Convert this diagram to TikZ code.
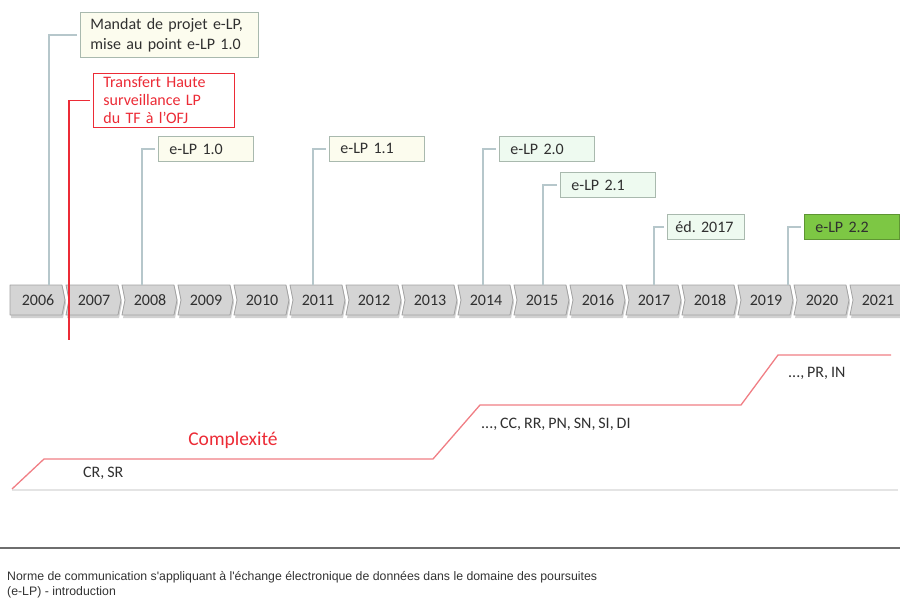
\documentclass[tikz,border=0pt]{standalone}
\usepackage{fontspec}
\setmainfont{Carlito}[WordSpace=0.8]
\newfontfamily\capfont{Liberation Sans}
\usetikzlibrary{calc}
\frenchspacing

\definecolor{conn}{HTML}{B6C7CB}
\definecolor{callborder}{HTML}{A9B9AE}
\definecolor{cream}{HTML}{FCFCEE}
\definecolor{mint}{HTML}{EEFAF0}
\definecolor{leaf}{HTML}{7DC744}
\definecolor{chevfill}{HTML}{D4D4D4}
\definecolor{chevline}{HTML}{A2A2A2}
\definecolor{txt}{HTML}{303030}
\definecolor{alert}{HTML}{EC2B36}
\definecolor{curve}{HTML}{F07E84}
\definecolor{floorgray}{HTML}{E4E4E4}
\definecolor{rulegray}{HTML}{6E6E6E}

\tikzset{
  callout/.style={draw=callborder, line width=0.8pt, text=txt, anchor=north west,
    align=left, inner xsep=10pt, inner ysep=0pt, font=\fontsize{16}{20}\selectfont},
  tag/.style={callout, minimum width=95pt, minimum height=25pt, text width=73pt, inner xsep=11pt},
  link/.style={draw=conn, line width=1.3pt, shorten <=3pt},
  yearlabel/.style={text=txt, font=\fontsize{16}{18}\selectfont, inner sep=0pt},
  chevron/.style={fill=chevfill, draw=chevline, line width=0.8pt, line join=round},
  plain/.style={text=txt, font=\fontsize{16}{18}\selectfont, inner sep=0pt, anchor=west}
}

\begin{document}
\begin{tikzpicture}[x=1pt,y=-1pt]
\useasboundingbox (0,0) rectangle (900,599);
\begin{scope}
\clip (0,0) rectangle (900,599);

% year chevrons along the time axis
\foreach \yr [count=\i from 0] in {2006,...,2021}{
  \pgfmathsetmacro{\L}{10+56*\i}
  \ifnum\i=0
    \fill[black, opacity=0.18] (\L+1,288) -- (\L+53,288) -- (\L+56,303) -- (\L+53,318) -- (\L+1,318) -- cycle;
    \draw[chevron] (\L,285) -- (\L+52,285) -- (\L+55,300) -- (\L+52,315) -- (\L,315) -- cycle;
  \else
    \fill[black, opacity=0.18] (\L+1,288) -- (\L+53,288) -- (\L+56,303) -- (\L+53,318) -- (\L+1,318) -- (\L+4,303) -- cycle;
    \draw[chevron] (\L,285) -- (\L+52,285) -- (\L+55,300) -- (\L+52,315) -- (\L,315) -- (\L+3,300) -- cycle;
  \fi
  \node[yearlabel] (y\yr) at (\L+28,300) {\yr};
}

% milestone callouts
\node[callout, fill=cream, minimum width=178pt, minimum height=45pt, text width=158pt]
  (mandat) at (80,12) {Mandat de projet e-LP,\\mise au point e-LP 1.0};
\node[callout, draw=alert, text=alert, fill=white, minimum width=141pt, minimum height=54pt,
  text width=121pt, font=\fontsize{16}{18}\selectfont]
  (transfert) at (93,73) {Transfert Haute\\surveillance LP\\du TF à l'OFJ};
\node[tag, fill=cream] (lp10) at (158,136) {e-LP 1.0};
\node[tag, fill=cream] (lp11) at (329,136) {e-LP 1.1};
\node[tag, fill=mint] (lp20) at (499,136) {e-LP 2.0};
\node[tag, fill=mint] (lp21) at (560,172) {e-LP 2.1};
\node[tag, fill=mint, minimum width=77pt, text width=61pt, inner xsep=8pt] (ed17) at (667,214) {éd. 2017};
\node[tag, fill=leaf, draw=leaf!75!black] (lp22) at (804,214) {e-LP 2.2};

% anchor points on the time axis
\coordinate (k1) at (49,285);
\coordinate (k2) at (142,285);
\coordinate (k3) at (313,285);
\coordinate (k4) at (483,285);
\coordinate (k5) at (543,285);
\coordinate (k6) at (654,285);
\coordinate (k7) at (788,285);
\coordinate (kr) at (69,340);

\draw[link] (mandat.west) -| (k1);
\draw[link] (lp10.west) -| (k2);
\draw[link] (lp11.west) -| (k3);
\draw[link] (lp20.west) -| (k4);
\draw[link] (lp21.west) -| (k5);
\draw[link] (ed17.west) -| (k6);
\draw[link] (lp22.west) -| (k7);
\draw[link, draw=alert, line width=1.1pt] (transfert.west) -| (kr);

% complexity steps
\draw[floorgray, line width=1.5pt] (12,490) -- (898,490);
\draw[curve, line width=1.3pt, line join=round]
  (12,489) -- (44,459) -- (433,459) -- (480,405) -- (741,405) -- (778,355) -- (891,355);
\node[text=alert, font=\fontsize{19.5}{22}\selectfont, inner sep=0pt] (complex) at (233,440) {Complexité};
\node[plain] (crsr) at (83,473) {CR, SR};
\node[plain] (cc) at (481,424) {..., CC, RR, PN, SN, SI, DI};
\node[plain] (pr) at (788,373) {..., PR, IN};

% footer
\draw[rulegray, line width=2pt] (0,548) -- (900,548);
\node[anchor=north west, align=left, inner sep=0pt, text=black!80,
  font=\capfont\fontsize{12.3}{15}\selectfont] (caption) at (7,571)
  {Norme de communication s'appliquant à l'échange électronique de données dans le domaine des poursuites\\(e-LP) - introduction};
\end{scope}
\end{tikzpicture}
\end{document}
